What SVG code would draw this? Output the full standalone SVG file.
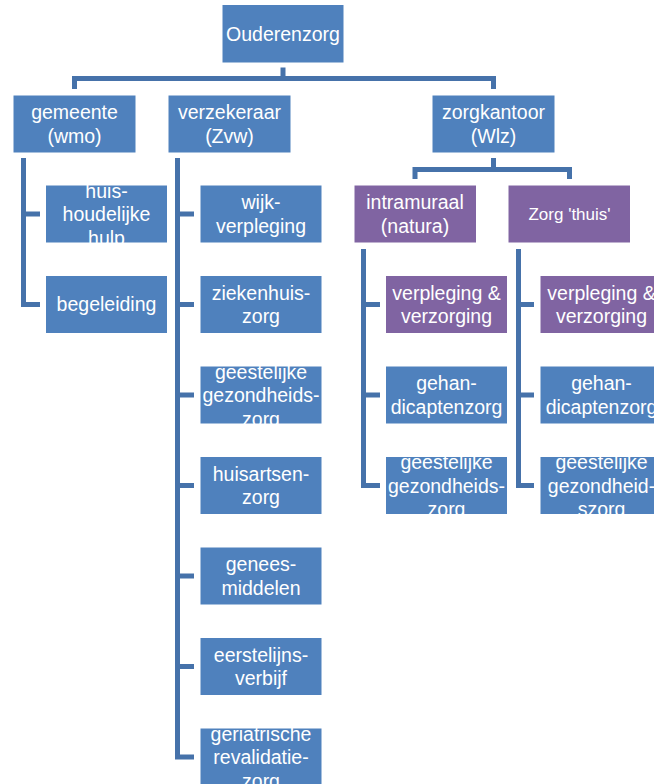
<svg xmlns="http://www.w3.org/2000/svg" width="654" height="784" viewBox="0 0 654 784">
<style>
.b{fill:#4F81BD;stroke:#ffffff;stroke-width:1}
.p{fill:#8064A2;stroke:#ffffff;stroke-width:1}
.t{fill:#ffffff;font-family:"Liberation Sans",Arial,sans-serif;font-size:19.5px;text-anchor:middle}
.s{font-size:17px}
.c{fill:none;stroke:#4672AA;stroke-width:5;stroke-linecap:butt;stroke-linejoin:miter}
</style>
<rect width="654" height="784" fill="#ffffff"/>
<g id="connectors">
<path class="c" d="M283 67.5V78.5M74.5 89V78.5H493.5V89"/>
<path class="c" d="M493.5 158V169.5M415 179V169.5H569.5V179"/>
<path class="c" d="M23.5 158V304.5H40M23.5 214H40"/>
<path class="c" d="M177.5 158V757H194M177.5 214H194M177.5 304.5H194M177.5 395H194M177.5 485.5H194M177.5 576H194M177.5 666.5H194"/>
<path class="c" d="M363.5 249V485.5H380M363.5 304.5H380M363.5 395H380"/>
<path class="c" d="M518.5 249V485.5H534M518.5 304.5H534M518.5 395H534"/>
</g>
<g id="ouderenzorg"><rect class="b" x="222" y="4.5" width="122" height="58.5"/><text class="t" x="283" y="40.5">Ouderenzorg</text></g>
<g id="gemeente"><rect class="b" x="13" y="95" width="123" height="58"/><text class="t" x="74.5" y="119">gemeente</text><text class="t" x="74.5" y="142.5">(wmo)</text></g>
<g id="verzekeraar"><rect class="b" x="168" y="95" width="123" height="58"/><text class="t" x="229.5" y="119">verzekeraar</text><text class="t" x="229.5" y="142.5">(Zvw)</text></g>
<g id="zorgkantoor"><rect class="b" x="432" y="95" width="123" height="58"/><text class="t" x="493.5" y="119">zorgkantoor</text><text class="t" x="493.5" y="142.5">(Wlz)</text></g>
<g id="intramuraal"><rect class="p" x="354" y="185" width="122.5" height="58"/><text class="t" x="415" y="209">intramuraal</text><text class="t" x="415" y="232.5">(natura)</text></g>
<g id="zorg-thuis"><rect class="p" x="508" y="185" width="122.5" height="58"/><text class="t s" x="569.5" y="220">Zorg 'thuis'</text></g>
<g id="huishoudelijke-hulp"><rect class="b" x="45.5" y="185" width="122" height="58"/><text class="t" x="106.5" y="197.5">huis-</text><text class="t" x="106.5" y="221">houdelijke</text><text class="t" x="106.5" y="244.5">hulp</text></g>
<g id="begeleiding"><rect class="b" x="45.5" y="275.5" width="122" height="58"/><text class="t" x="106.5" y="311">begeleiding</text></g>
<g id="wijkverpleging"><rect class="b" x="200" y="185" width="122" height="58"/><text class="t" x="261" y="209">wijk-</text><text class="t" x="261" y="232.5">verpleging</text></g>
<g id="ziekenhuiszorg"><rect class="b" x="200" y="275.5" width="122" height="58"/><text class="t" x="261" y="299.5">ziekenhuis-</text><text class="t" x="261" y="323">zorg</text></g>
<g id="ggz-zvw"><rect class="b" x="200" y="366" width="122" height="58"/><text class="t" x="261" y="378.5">geestelijke</text><text class="t" x="261" y="402">gezondheids-</text><text class="t" x="261" y="425.5">zorg</text></g>
<g id="huisartsenzorg"><rect class="b" x="200" y="456.5" width="122" height="58"/><text class="t" x="261" y="480.5">huisartsen-</text><text class="t" x="261" y="504">zorg</text></g>
<g id="geneesmiddelen"><rect class="b" x="200" y="547" width="122" height="58"/><text class="t" x="261" y="571">genees-</text><text class="t" x="261" y="594.5">middelen</text></g>
<g id="eerstelijnsverbijf"><rect class="b" x="200" y="637.5" width="122" height="58"/><text class="t" x="261" y="661.5">eerstelijns-</text><text class="t" x="261" y="685">verbijf</text></g>
<g id="geriatrische-revalidatiezorg"><rect class="b" x="200" y="728" width="122" height="58"/><text class="t" x="261" y="740.5">geriatrische</text><text class="t" x="261" y="764">revalidatie-</text><text class="t" x="261" y="787.5">zorg</text></g>
<g id="vv-intramuraal"><rect class="p" x="385.5" y="275.5" width="122" height="58"/><text class="t" x="446.5" y="299.5">verpleging &amp;</text><text class="t" x="446.5" y="323">verzorging</text></g>
<g id="ghz-intramuraal"><rect class="b" x="385.5" y="366" width="122" height="58"/><text class="t" x="446.5" y="390">gehan-</text><text class="t" x="446.5" y="413.5">dicaptenzorg</text></g>
<g id="ggz-intramuraal"><rect class="b" x="385.5" y="456.5" width="122" height="58"/><text class="t" x="446.5" y="469">geestelijke</text><text class="t" x="446.5" y="492.5">gezondheids-</text><text class="t" x="446.5" y="516">zorg</text></g>
<g id="vv-thuis"><rect class="p" x="540" y="275.5" width="123" height="58"/><text class="t" x="601.5" y="299.5">verpleging &amp;</text><text class="t" x="601.5" y="323">verzorging</text></g>
<g id="ghz-thuis"><rect class="b" x="540" y="366" width="123" height="58"/><text class="t" x="601.5" y="390">gehan-</text><text class="t" x="601.5" y="413.5">dicaptenzorg</text></g>
<g id="ggz-thuis"><rect class="b" x="540" y="456.5" width="123" height="58"/><text class="t" x="601.5" y="469">geestelijke</text><text class="t" x="601.5" y="492.5">gezondheid-</text><text class="t" x="601.5" y="516">szorg</text></g>
</svg>
